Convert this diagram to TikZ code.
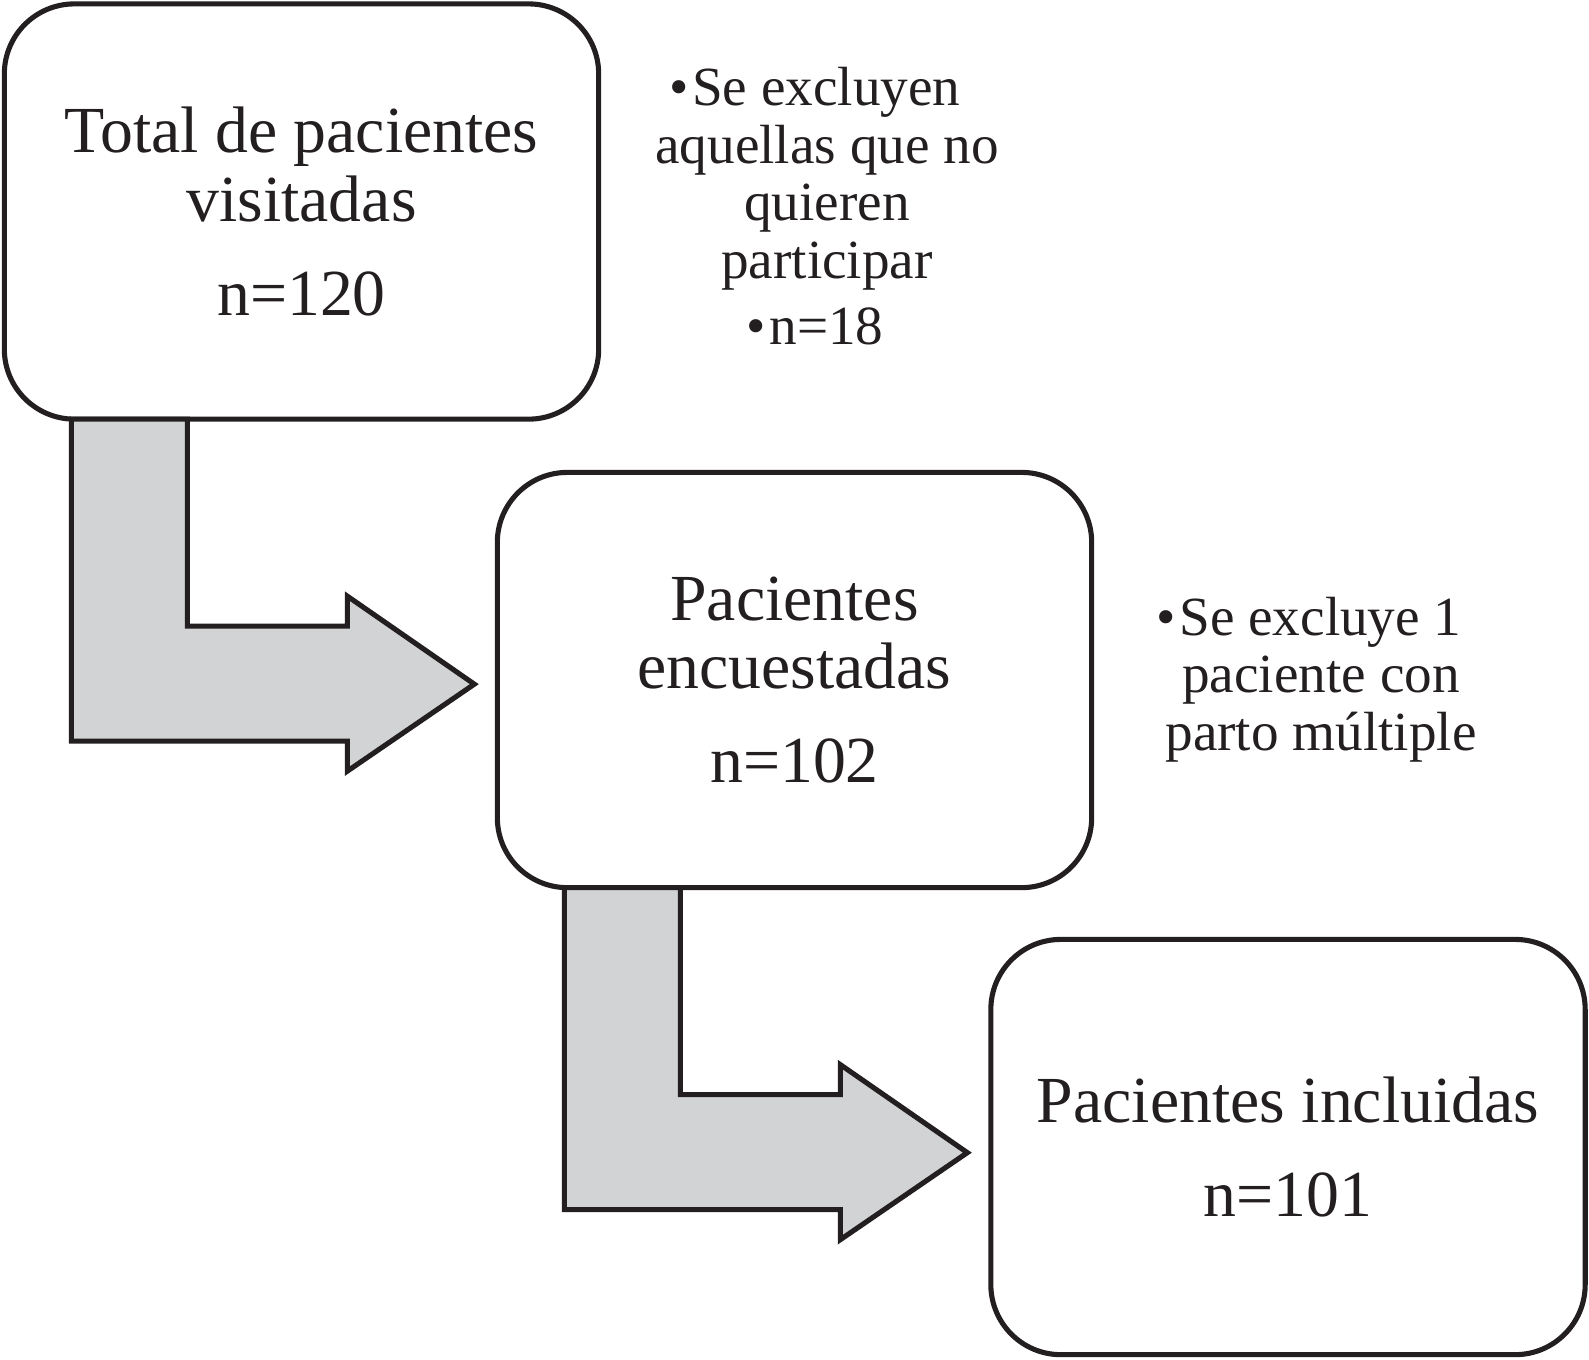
\documentclass[tikz,border=0pt]{standalone}
\usepackage{fontspec}
\setmainfont{Liberation Serif}
\usetikzlibrary{calc}
\definecolor{arrowgray}{RGB}{209,211,212}
\definecolor{ink}{RGB}{35,31,32}
\tikzset{
  stepbox/.style={draw=ink, line width=1.45pt, rounded corners=0.7cm, fill=white,
    minimum width=5.94cm, minimum height=4.15cm, align=center, outer sep=0pt,
    font=\fontsize{18.7}{19.35}\selectfont, text=ink},
  note/.style={align=center, font=\fontsize{15.7}{16.35}\selectfont, text=ink, inner sep=0pt},
  fatarrow/.style={draw=ink, line width=1.45pt, fill=arrowgray, line join=miter}
}
\newcommand\bentarrow[1]{%
  \draw[fatarrow] ($(#1.south west)+(67,0)$) -- ($(#1.south west)+(183,0)$)
    -- ($(#1.south west)+(183,207)$) -- ($(#1.south west)+(343,207)$)
    -- ($(#1.south west)+(343,177)$) -- ($(#1.south west)+(470,265)$)
    -- ($(#1.south west)+(343,352)$) -- ($(#1.south west)+(343,322)$)
    -- ($(#1.south west)+(67,322)$) -- cycle;}
\newcommand\padr{\rule{0.24cm}{0pt}}
\begin{document}
\begin{tikzpicture}[x=0.01cm, y=-0.01cm]
\useasboundingbox (0,0) rectangle (1589,1359);
\node[stepbox] (b1) at (301.5,211.5) {Total de pacientes\\visitadas\\[7.4pt]n=120};
\node[stepbox] (b2) at (794.5,680) {Pacientes\\encuestadas\\[7.4pt]n=102};
\node[stepbox] (b3) at (1288,1147) {Pacientes incluidas\\[7.4pt]n=101};
\bentarrow{b1}
\bentarrow{b2}
\node[note] (n1) at (827,206.5) {•\hspace{1pt}Se excluyen\padr\\aquellas que no\\quieren\\participar\\[2.6pt]•\hspace{1pt}n=18\padr};
\node[note] (n2) at (1321,679.5) {•\hspace{1pt}Se excluye 1\padr\\paciente con\\parto múltiple};
\end{tikzpicture}
\end{document}
